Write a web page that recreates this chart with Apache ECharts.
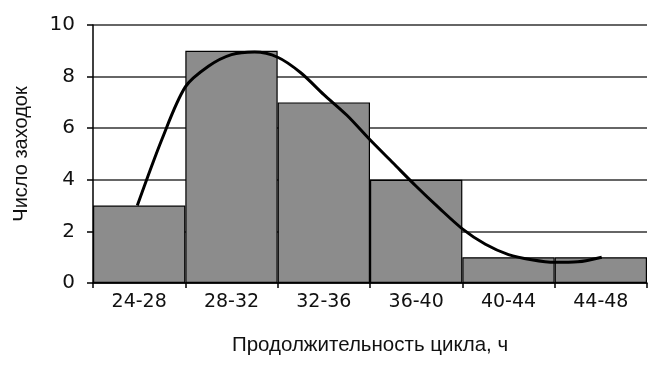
<!DOCTYPE html>
<html><head><meta charset="utf-8">
<script src="https://cdn.jsdelivr.net/npm/echarts@6/dist/echarts.min.js"></script>
<style>html,body{margin:0;padding:0;background:#fff}#c{width:648px;height:368px}</style>
</head><body><div id="c"></div>
<script>
var categories = ['24-28','28-32','32-36','36-40','40-44','44-48'];
var counts = [3, 9, 7, 4, 1, 1];
var yTicks = [0, 2, 4, 6, 8, 10];
// curve: x in category units (0..6), y value
var curveX = [0.48, 0.75, 1.0, 1.25, 1.5, 1.75, 2.0, 2.25, 2.5, 2.75, 3.0, 3.25, 3.5, 3.75, 4.0, 4.25, 4.5, 4.75, 5.0, 5.25, 5.51];
var curveY = [3.0, 5.6, 7.6, 8.4, 8.85, 8.95, 8.75, 8.15, 7.3, 6.5, 5.55, 4.65, 3.75, 2.9, 2.1, 1.5, 1.1, 0.9, 0.8, 0.82, 1.0];

var curve = curveX.map(function(x, i){ return [x, curveY[i]]; });
var font = '"Liberation Sans", Arial, sans-serif';
var tickFont = '"DejaVu Sans", sans-serif';
var chart = echarts.init(document.getElementById('c'));
chart.setOption({
  animation: false,
  backgroundColor: '#fff',
  grid: {left: 93, right: 1, top: 25, bottom: 85},
  xAxis: [{
    type: 'category', data: categories, boundaryGap: true,
    axisLine: {lineStyle: {color: '#000', width: 1.5}},
    axisTick: {show: true, length: 5, lineStyle: {color: '#000', width: 1.5}},
    axisLabel: {color: '#111', fontFamily: tickFont, fontSize: 19, margin: 10},
    name: 'Продолжительность цикла, ч', nameLocation: 'middle', nameGap: 52,
    nameTextStyle: {color: '#111', fontFamily: font, fontSize: 20.5}
  }, {
    type: 'value', min: 0, max: 6, show: false
  }],
  yAxis: {
    type: 'value', min: 0, max: 10, interval: 2,
    axisLine: {show: true, lineStyle: {color: '#000', width: 1.5}},
    axisTick: {show: true, length: 6, lineStyle: {color: '#000', width: 1.5}},
    axisLabel: {color: '#111', fontFamily: tickFont, fontSize: 20, margin: 18},
    splitLine: {lineStyle: {color: '#333', width: 1.5}},
    name: 'Число заходок', nameLocation: 'middle', nameGap: 62, nameRotate: 90,
    nameTextStyle: {color: '#111', fontFamily: font, fontSize: 20}
  },
  series: [{
    type: 'bar', data: counts, barCategoryGap: '0%', xAxisIndex: 0,
    itemStyle: {color: '#8c8c8c', borderColor: '#000', borderWidth: 1.2}
  }, {
    type: 'line', data: curve, xAxisIndex: 1, smooth: 0.3, symbol: 'none',
    lineStyle: {color: '#000', width: 3}, z: 5
  }]
});
</script></body></html>
